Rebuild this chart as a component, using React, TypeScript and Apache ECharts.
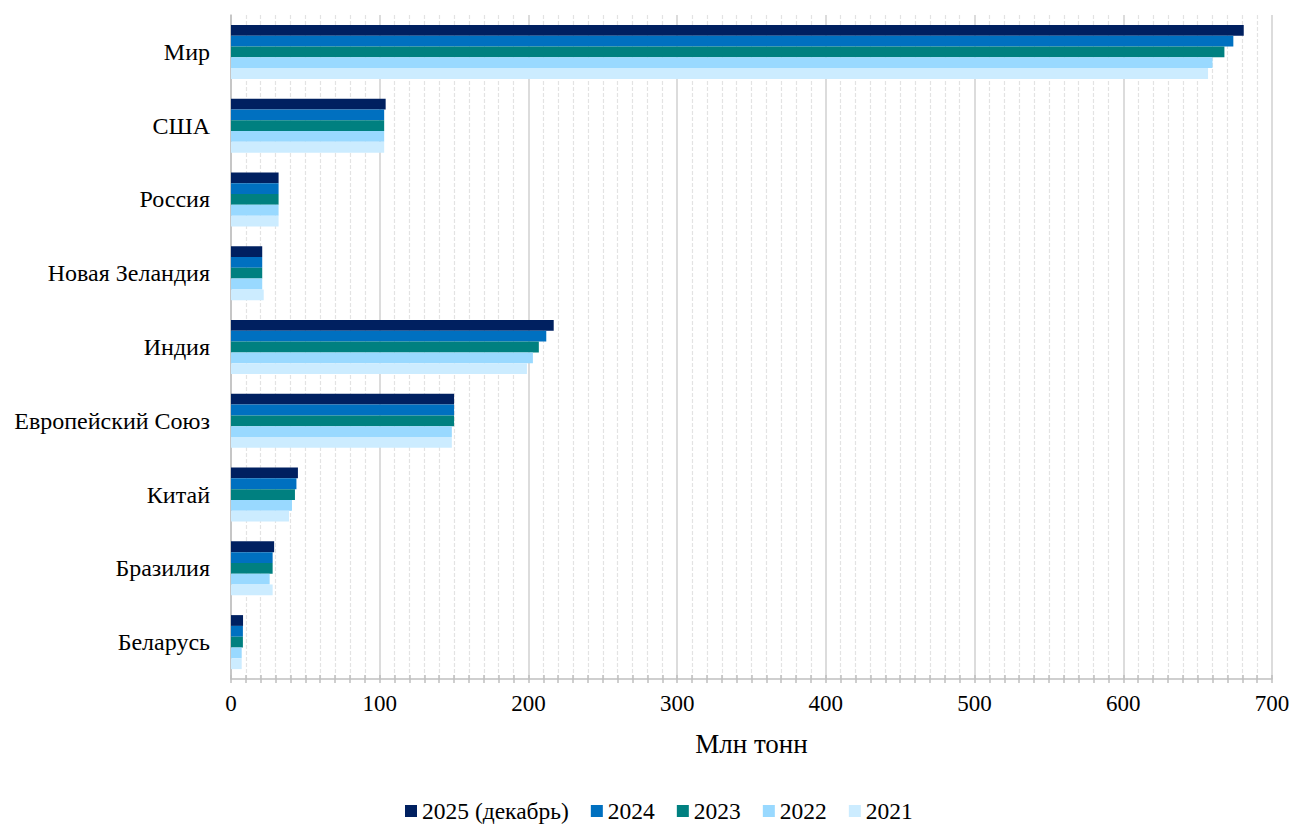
import React, { useEffect, useRef } from "react";
import * as echarts from "echarts";

const categories = [
  "Мир",
  "США",
  "Россия",
  "Новая Зеландия",
  "Индия",
  "Европейский Союз",
  "Китай",
  "Бразилия",
  "Беларусь",
];

const seriesNames = ["2025 (декабрь)", "2024", "2023", "2022", "2021"];
const values2025 = [681, 104, 32, 21, 217, 150, 45, 29, 8.1];
const values2024 = [674, 103, 32, 21, 212, 150, 44, 28, 8];
const values2023 = [668, 103, 32, 21, 207, 150, 43, 28, 8];
const values2022 = [660, 103, 32, 21, 203, 148.5, 41, 26, 7.2];
const values2021 = [657, 103, 32, 22, 199, 148.5, 39, 28, 7.2];
const seriesValues = [values2025, values2024, values2023, values2022, values2021];
const colors = ["#002060", "#0070C0", "#008080", "#99D9FF", "#CCECFF"];

const xMin = 0;
const xMax = 700;
const xInterval = 100;

const FONT = "'Liberation Serif', 'Times New Roman', serif";

export default function App() {
  const ref = useRef<HTMLDivElement>(null);

  useEffect(() => {
    if (!ref.current) return;
    const chart = echarts.init(ref.current, undefined, { renderer: "svg" });
    chart.setOption({
      animation: false,
      backgroundColor: "#ffffff",
      textStyle: { fontFamily: FONT, color: "#000" },
      grid: { left: 231, right: 22, top: 15, bottom: 146, containLabel: false },
      legend: {
        top: 794,
        left: 400,
        data: seriesNames,
        itemWidth: 12,
        itemHeight: 12,
        itemGap: 22,
        icon: "rect",
        textStyle: { fontFamily: FONT, fontSize: 23.5, color: "#000" },
      },
      xAxis: [
        {
          type: "value",
          min: xMin,
          max: xMax,
          interval: xInterval,
          name: "Млн тонн",
          nameLocation: "middle",
          nameGap: 51,
          nameTextStyle: { fontFamily: FONT, fontSize: 27, color: "#000" },
          axisLine: { show: true, lineStyle: { color: "#BFBFBF", width: 1.5 } },
          axisTick: { show: true, length: 4, lineStyle: { color: "#BFBFBF", width: 1.5 } },
          minorTick: { show: true, splitNumber: 10, length: 4, lineStyle: { color: "#BFBFBF", width: 1.5 } },
          axisLabel: { fontFamily: FONT, fontSize: 23, color: "#000", margin: 13 },
          splitLine: { show: true, lineStyle: { color: "#D0D0D0", width: 1.5 } },
          minorSplitLine: { show: true, lineStyle: { color: "#E3E3E3", width: 1.2, type: [4, 2] } },
        },
        {
          type: "value",
          min: xMin,
          max: xMax,
          interval: xInterval,
          position: "bottom",
          axisLine: { show: false },
          axisTick: { show: true, inside: true, length: 4, lineStyle: { color: "#BFBFBF", width: 1.5 } },
          minorTick: { show: true, splitNumber: 10, length: 4, lineStyle: { color: "#BFBFBF", width: 1.5 } },
          axisLabel: { show: false },
          splitLine: { show: false },
          minorSplitLine: { show: false },
        },
      ],
      yAxis: {
        type: "category",
        data: categories,
        inverse: true,
        axisLine: { show: true, lineStyle: { color: "#BFBFBF", width: 1.5 } },
        axisTick: { show: false },
        axisLabel: { fontFamily: FONT, fontSize: 24, color: "#000", margin: 21 },
        splitLine: { show: false },
      },
      series: seriesNames.map((name, i) => ({
        name,
        type: "bar",
        xAxisIndex: 0,
        data: seriesValues[i],
        barGap: "0%",
        barCategoryGap: "26.8%",
        itemStyle: { color: colors[i] },
      })),
    });
    return () => chart.dispose();
  }, []);

  return (
    <div
      ref={ref}
      style={{ position: "absolute", left: 0, top: 0, width: 1294, height: 825 }}
    />
  );
}
